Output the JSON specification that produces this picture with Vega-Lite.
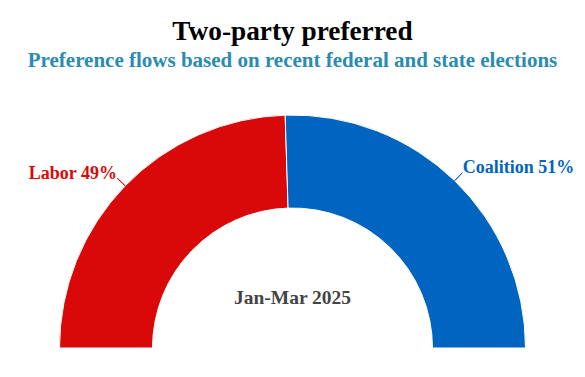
{
  "$schema": "https://vega.github.io/schema/vega-lite/v6.json",
  "width": 585,
  "height": 58,
  "autosize": "none",
  "padding": {"left": 0, "right": 0, "top": 319, "bottom": 0},
  "background": "white",
  "title": {
    "text": "Two-party preferred",
    "subtitle": "Preference flows based on recent federal and state elections",
    "anchor": "middle",
    "font": "Liberation Serif",
    "fontSize": 27.3,
    "fontWeight": "bold",
    "color": "#000000",
    "subtitleFont": "Liberation Serif",
    "subtitleFontSize": 21,
    "subtitleFontWeight": "bold",
    "subtitleColor": "#2b8bb0",
    "offset": 42,
    "subtitlePadding": 5
  },
  "data": {
    "values": [
      {"party": "Labor", "share": 49, "label": "Labor 49%"},
      {"party": "Coalition", "share": 51, "label": "Coalition 51%"}
    ]
  },
  "layer": [
    {
      "mark": {"type": "arc", "outerRadius": 233, "innerRadius": 140, "stroke": "white", "strokeWidth": 1},
      "encoding": {
        "theta": {"field": "share", "type": "quantitative", "stack": true, "scale": {"range": [-1.5708, 1.5708]}},
        "order": {"field": "party", "sort": "descending"},
        "color": {"field": "party", "type": "nominal", "scale": {"domain": ["Labor", "Coalition"], "range": ["#d90909", "#0064c1"]}, "legend": null}
      }
    },
    {
      "mark": {"type": "arc", "outerRadius": 244, "innerRadius": 233, "padAngle": 3.2, "filled": false, "strokeWidth": 1},
      "encoding": {
        "theta": {"field": "share", "type": "quantitative", "stack": true},
        "order": {"field": "party", "sort": "descending"},
        "color": {"field": "party", "type": "nominal", "legend": null}
      }
    },
    {
      "mark": {"type": "text", "radius": 244.5, "dy": -4, "align": {"expr": "datum.party === 'Labor' ? 'right' : 'left'"}, "baseline": "middle", "font": "Liberation Serif", "fontSize": 18, "fontWeight": "bold"},
      "encoding": {
        "theta": {"field": "share", "type": "quantitative", "stack": true},
        "order": {"field": "party", "sort": "descending"},
        "color": {"field": "party", "type": "nominal", "legend": null},
        "text": {"field": "label", "type": "nominal"}
      }
    },
    {
      "data": {"values": [{"period": "Jan-Mar 2025"}]},
      "mark": {"type": "text", "align": "center", "baseline": "alphabetic", "dy": -44, "font": "Liberation Serif", "fontSize": 19.5, "fontWeight": "bold", "color": "#444444"},
      "encoding": {
        "text": {"field": "period", "type": "nominal"}
      }
    }
  ]
}
